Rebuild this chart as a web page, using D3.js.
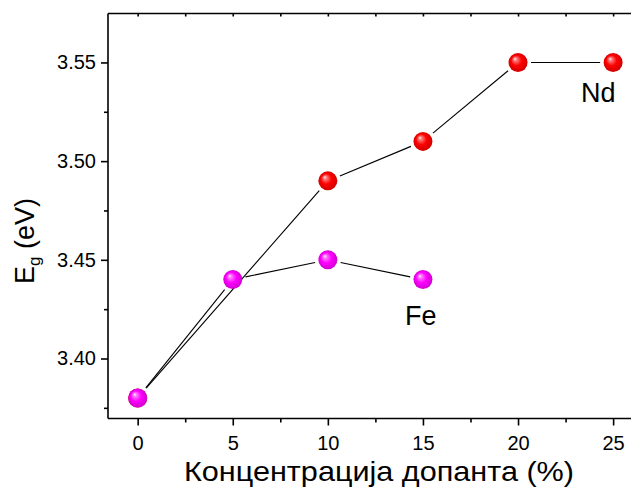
<!DOCTYPE html>
<html>
<head>
<meta charset="utf-8">
<script src="https://cdn.jsdelivr.net/npm/d3@7"></script>
<style>
  html, body { margin: 0; padding: 0; background: #fff; }
  svg { display: block; }
  text { font-family: "Liberation Sans", Arial, sans-serif; fill: #000; }
</style>
</head>
<body>
<svg id="chart" width="631" height="488"></svg>
<script>
// ---- data ----
const ndX = [0, 10, 15, 20, 25];
const ndY = [3.38, 3.49, 3.51, 3.55, 3.55];
const feX = [0, 5, 10, 15];
const feY = [3.38, 3.44, 3.45, 3.44];
const xTicks = [0, 5, 10, 15, 20, 25];
const xMinor = [2.5, 7.5, 12.5, 17.5, 22.5];
const yTicks = [3.40, 3.45, 3.50, 3.55];
const yMinor = [3.375, 3.425, 3.475, 3.525];
const seriesLabels = ["Nd", "Fe"];
const xTitle = "Концентрација допанта (%)";

(function () {
const svg = d3.select("#chart");
const pLeft = 108, pRight = 631, pTop = 13.5, pBottom = 418.5;
const x = d3.scaleLinear().domain([-1.56, 25.94]).range([pLeft, pRight]);
const y = d3.scaleLinear().domain([3.3696, 3.5748]).range([pBottom, pTop]);

// gradients
const defs = svg.append("defs");
function sphere(id, light, base, dark) {
  const g = defs.append("radialGradient").attr("id", id)
    .attr("cx", "50%").attr("cy", "50%").attr("r", "55%")
    .attr("fx", "33%").attr("fy", "30%");
  g.append("stop").attr("offset", "0%").attr("stop-color", "#ffffff");
  g.append("stop").attr("offset", "15%").attr("stop-color", light);
  g.append("stop").attr("offset", "50%").attr("stop-color", base);
  g.append("stop").attr("offset", "100%").attr("stop-color", dark);
}
sphere("gRed", "#ff8080", "#ff0000", "#c80000");
sphere("gPink", "#ff80ff", "#ff00ff", "#c800c8");

// axes
const axisStyle = g => {
  g.selectAll("path, line").attr("stroke", "#000").attr("stroke-width", 1.6);
  g.selectAll("text").style("font-family", '"Liberation Sans", Arial, sans-serif').style("font-size", "20px").attr("fill", "#000");
};
svg.append("g").attr("transform", `translate(0,${pBottom})`)
  .call(d3.axisBottom(x).tickValues(xTicks).tickFormat(d3.format("d")).tickSize(7).tickPadding(10).tickSizeOuter(0))
  .call(axisStyle)
  .call(g => g.select(".domain").attr("d", `M${pLeft},0H${pRight}`));
svg.append("g").attr("transform", `translate(0,${pBottom})`)
  .call(d3.axisBottom(x).tickValues(xMinor).tickFormat("").tickSize(4).tickSizeOuter(0))
  .call(axisStyle).call(g => g.select(".domain").remove());

svg.append("g").attr("transform", `translate(${pLeft},0)`)
  .call(d3.axisLeft(y).tickValues(yTicks).tickFormat(d3.format(".2f")).tickSize(7).tickPadding(5).tickSizeOuter(0))
  .call(axisStyle)
  .call(g => g.select(".domain").attr("d", `M0,${pTop}V${pBottom}`));
svg.append("g").attr("transform", `translate(${pLeft},0)`)
  .call(d3.axisLeft(y).tickValues(yMinor).tickFormat("").tickSize(4).tickSizeOuter(0))
  .call(axisStyle).call(g => g.select(".domain").remove());

// top axis
svg.append("g").attr("transform", `translate(0,${pTop})`)
  .call(d3.axisTop(x).tickValues(xTicks.concat(xMinor)).tickFormat("").tickSize(-3).tickSizeOuter(0))
  .call(axisStyle)
  .call(g => g.select(".domain").attr("d", `M${pLeft},0H${pRight}`));

// lines with gaps
const gap = 13;
function drawSeg(xs, ys) {
  const pts = xs.map((d, i) => [x(d), y(ys[i])]);
  for (let i = 0; i < pts.length - 1; i++) {
    const [x1, y1] = pts[i], [x2, y2] = pts[i + 1];
    const L = Math.hypot(x2 - x1, y2 - y1);
    const ux = (x2 - x1) / L, uy = (y2 - y1) / L;
    svg.append("line")
      .attr("x1", x1 + ux * gap).attr("y1", y1 + uy * gap)
      .attr("x2", x2 - ux * gap).attr("y2", y2 - uy * gap)
      .attr("stroke", "#000").attr("stroke-width", 1.1);
  }
}
drawSeg(ndX, ndY);
drawSeg(feX, feY);

svg.append("g").selectAll("circle").data(ndX).join("circle")
  .attr("cx", d => x(d)).attr("cy", (d, i) => y(ndY[i])).attr("r", 9.5)
  .attr("fill", "url(#gRed)");
svg.append("g").selectAll("circle").data(feX).join("circle")
  .attr("cx", d => x(d)).attr("cy", (d, i) => y(feY[i])).attr("r", 9.5)
  .attr("fill", "url(#gPink)");

// series labels
svg.append("text").attr("x", x(25) - 32).attr("y", y(3.55) + 40)
  .style("font-size", "27px").text(seriesLabels[0]);
svg.append("text").attr("x", x(15) - 18).attr("y", y(3.44) + 45)
  .style("font-size", "27px").text(seriesLabels[1]);

// axis titles
svg.append("text").attr("x", 379).attr("y", 481).attr("text-anchor", "middle")
  .attr("textLength", 390).attr("lengthAdjust", "spacingAndGlyphs")
  .style("font-size", "28px").text(xTitle);
const yt = svg.append("text").attr("transform", "translate(34,284) rotate(-90)")
  .style("font-size", "27px");
yt.append("tspan").text("E");
yt.append("tspan").attr("dy", "6").style("font-size", "17px").text("g");
yt.append("tspan").attr("dy", "-6").text(" (eV)");
})();
</script>
</body>
</html>
